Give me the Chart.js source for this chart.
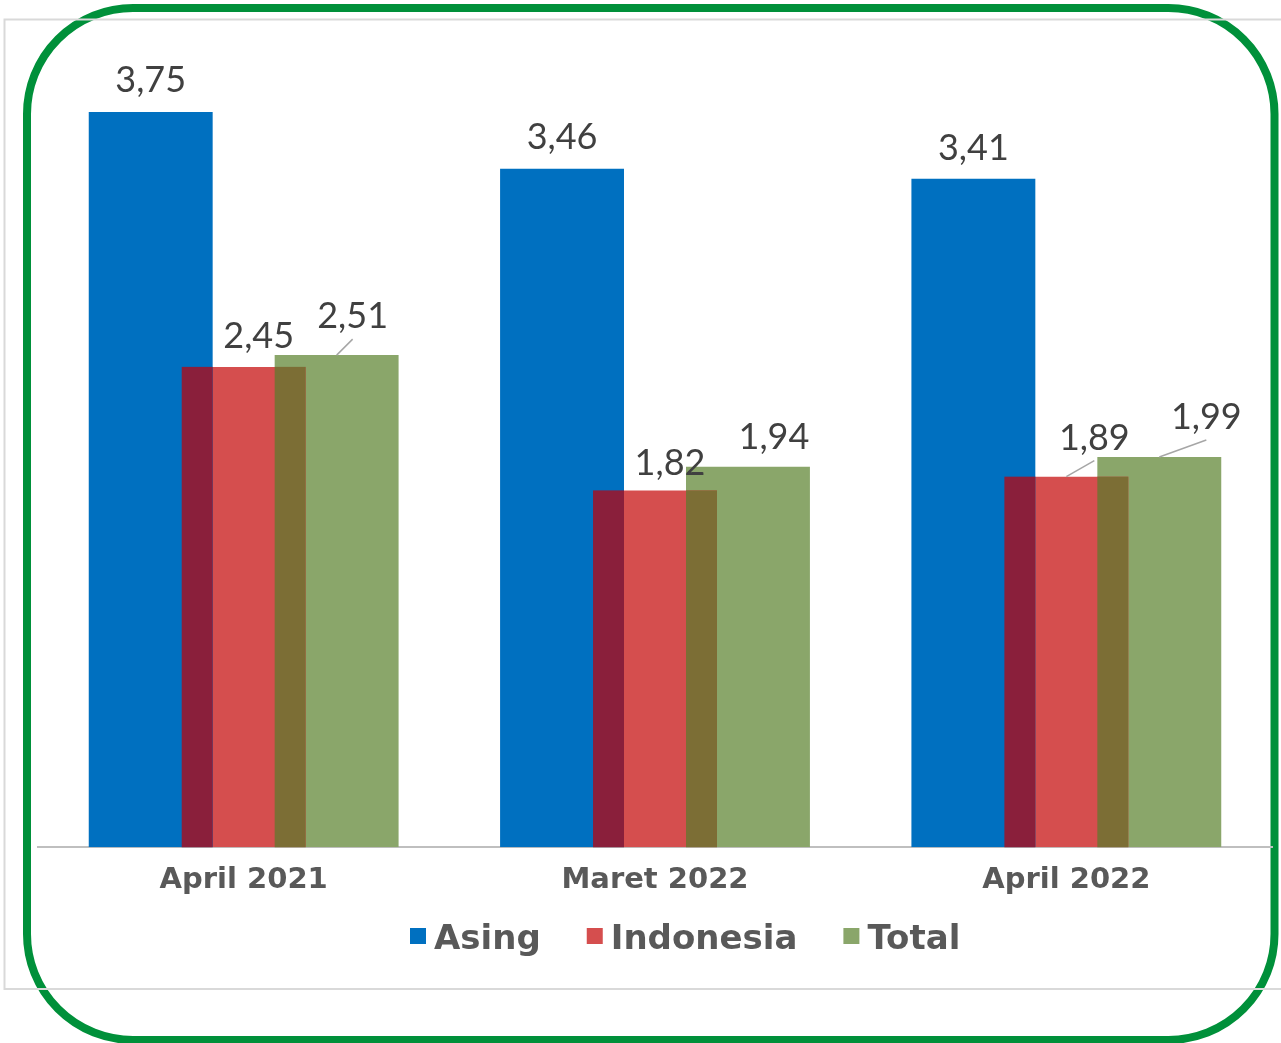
<!DOCTYPE html>
<html><head><meta charset="utf-8">
<script src="https://cdn.jsdelivr.net/npm/chart.js@4"></script>
<style>html,body{margin:0;padding:0;background:#fff;overflow:hidden}#wrap{position:relative;width:1281px;height:1043px}</style>
</head><body><div id="wrap"><canvas id="c" width="1281" height="1043"></canvas></div>
<script>
// ---- data ----
const categories = ['April 2021', 'Maret 2022', 'April 2022'];
const seriesNames = ['Asing', 'Indonesia', 'Total'];
const asingValues = [3.75, 3.46, 3.41];
const indonesiaValues = [2.45, 1.82, 1.89];
const totalValues = [2.51, 1.94, 1.99];

// ---- styling ----
const seriesColors = ['#0070C0', '#D54E4E', '#8AA66A'];
const overlapColors = ['#8A1F3B', '#7C6E35'];
const labelOffsets = [
  [[0, -33], [0, -33], [0, -32]],
  [[15, -32], [15, -28], [28, -40]],
  [[16, -40], [26, -31], [47, -41]]
];
const leaderLines = [[false, false, false], [false, false, true], [true, false, true]];
const legendStyle = { x: 410, cy: 936, box: 16, textGap: 8, itemGap: 46, font: 'bold 34px "DejaVu Sans"', color: '#595959' };

const framePlugin = {
  id: 'frame',
  beforeDraw(chart) {
    const ctx = chart.ctx;
    ctx.save();
    ctx.fillStyle = '#fff';
    ctx.fillRect(0, 0, chart.width, chart.height);
    ctx.strokeStyle = '#00903A';
    ctx.lineWidth = 8;
    ctx.beginPath();
    ctx.roundRect(27, 8, 1247.5, 1032, 106);
    ctx.stroke();
    ctx.strokeStyle = '#D9D9D9';
    ctx.lineWidth = 2;
    ctx.strokeRect(4.5, 19.5, 1280, 969.5);
    ctx.restore();
  }
};

const overlapPlugin = {
  id: 'overlap',
  afterDatasetsDraw(chart) {
    const ctx = chart.ctx;
    ctx.save();
    [[0, 1], [1, 2]].forEach((pair, pi) => {
      const ma = chart.getDatasetMeta(pair[0]).data;
      const mb = chart.getDatasetMeta(pair[1]).data;
      ma.forEach((ea, i) => {
        const a = ea.getProps(['x', 'y', 'base', 'width'], true);
        const b = mb[i].getProps(['x', 'y', 'base', 'width'], true);
        const left = Math.max(a.x - a.width / 2, b.x - b.width / 2);
        const right = Math.min(a.x + a.width / 2, b.x + b.width / 2);
        const top = Math.max(a.y, b.y);
        const bottom = Math.min(a.base, b.base);
        if (right > left && bottom > top) {
          ctx.fillStyle = overlapColors[pi];
          ctx.fillRect(left, top, right - left, bottom - top);
        }
      });
    });
    ctx.restore();
  }
};

const labelPlugin = {
  id: 'valueLabels',
  afterDraw(chart) {
    const ctx = chart.ctx;
    ctx.save();
    ctx.font = '400 36px Lato';
    ctx.fillStyle = '#404040';
    ctx.textAlign = 'center';
    ctx.textBaseline = 'alphabetic';
    chart.data.datasets.forEach((ds, di) => {
      chart.getDatasetMeta(di).data.forEach((el, i) => {
        const p = el.getProps(['x', 'y'], true);
        const off = labelOffsets[di][i];
        const lx = p.x + off[0], ly = p.y + off[1];
        if (leaderLines[di][i]) {
          ctx.strokeStyle = '#A6A6A6';
          ctx.lineWidth = 1.5;
          ctx.beginPath();
          ctx.moveTo(p.x, p.y);
          ctx.lineTo(lx, ly + 24);
          ctx.stroke();
        }
        ctx.fillText(ds.data[i].toFixed(2).replace('.', ','), lx, ly + 13);
      });
    });
    // legend
    const L = legendStyle;
    ctx.font = L.font;
    ctx.textAlign = 'left';
    let x = L.x;
    chart.data.datasets.forEach((ds) => {
      ctx.fillStyle = ds.backgroundColor;
      ctx.fillRect(x, L.cy - L.box / 2, L.box, L.box);
      x += L.box + L.textGap;
      ctx.fillStyle = L.color;
      ctx.fillText(ds.label, x, L.cy + 12.5);
      x += ctx.measureText(ds.label).width + L.itemGap;
    });
    ctx.restore();
  }
};

const seriesData = [asingValues, indonesiaValues, totalValues];
new Chart(document.getElementById('c'), {
  type: 'bar',
  data: {
    labels: categories,
    datasets: seriesNames.map((n, k) => ({
      label: n,
      data: seriesData[k],
      backgroundColor: seriesColors[k],
      borderWidth: 0,
      categoryPercentage: 0.678,
      barPercentage: 1.333
    }))
  },
  options: {
    responsive: false,
    devicePixelRatio: 1,
    animation: false,
    layout: { padding: { top: 63, left: 38, right: 9, bottom: 129 } },
    plugins: {
      tooltip: { enabled: false },
      legend: { display: false }
    },
    scales: {
      x: {
        grid: { display: true, color: 'rgba(0,0,0,0)', drawTicks: false },
        border: { display: true, color: '#BFBFBF', width: 2 },
        ticks: { color: '#595959', padding: 16, font: { family: 'DejaVu Sans', weight: 'bold', size: 29 } }
      },
      y: { display: false, min: 0, max: 4 }
    }
  },
  plugins: [framePlugin, overlapPlugin, labelPlugin]
});
</script></body></html>
